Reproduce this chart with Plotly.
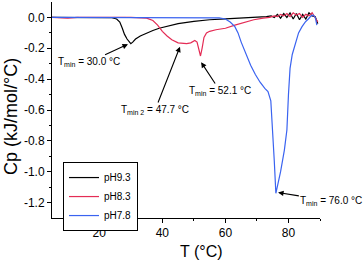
import plotly.graph_objects as go

# pH9.3 (black)
x_ph93 = [5, 20, 24, 25.5, 26.5, 27.3, 28, 28.8, 29.5, 30, 30.6, 31.5, 33, 35, 37, 39, 42, 45, 50, 55, 60, 65, 70,
          73, 74.5, 75.5, 76.5, 77.5, 78.5, 79.5, 80.5, 81.5, 82.5, 83.5, 84.5, 85.5, 86.5, 87.5, 88.5, 89.3]
y_ph93 = [0, 0, -0.002, -0.01, -0.03, -0.07, -0.11, -0.14, -0.16, -0.17, -0.16, -0.14, -0.12, -0.10, -0.085, -0.07,
          -0.055, -0.04, -0.025, -0.015, -0.01, -0.005, 0.0, 0.005, 0.01, 0.0, 0.02, -0.005, 0.025, 0.0, 0.03, -0.01,
          0.025, -0.015, 0.02, -0.01, 0.03, 0.01, 0.005, -0.04]

# pH8.3 (red)
x_ph83 = [5, 8, 10, 13, 20, 30, 35, 37, 38.5, 40, 41.5, 43, 45, 47.7, 49, 50.3, 51, 51.6, 52.1, 52.6, 53.2, 54, 55,
          57, 60, 63, 66, 69, 72, 74, 75.5, 76.5, 77.5, 78.5, 79.5, 80.5, 81.5, 82.5, 83.5, 84.5, 85.5, 86.5, 87.5,
          88.5, 89.3]
y_ph83 = [0, -0.004, -0.004, 0, 0, 0, -0.005, -0.02, -0.05, -0.09, -0.12, -0.145, -0.165, -0.17, -0.165, -0.15,
          -0.16, -0.21, -0.25, -0.2, -0.13, -0.10, -0.09, -0.08, -0.07, -0.05, -0.03, -0.015, -0.005, 0.0, 0.01,
          0.005, 0.02, 0.01, 0.025, 0.005, 0.03, 0.015, 0.025, 0.0, 0.02, 0.01, 0.03, 0.0, -0.03]

# pH7.8 (blue)
x_ph78 = [5, 55, 58, 60, 61.5, 63, 64, 65, 66.5, 68, 69.5, 71, 72.5, 73.5, 74.4, 75.0, 75.5, 76.0, 77.5, 78.7,
          79.5, 80.0, 80.5, 81.2, 82.1, 83.2, 84.3, 85.3, 86.3, 87.2, 87.9, 88.5, 89]
y_ph78 = [0, 0, -0.003, -0.01, -0.03, -0.06, -0.10, -0.16, -0.24, -0.31, -0.37, -0.42, -0.46, -0.48, -0.54, -0.73,
          -0.93, -1.14, -1.0, -0.86, -0.73, -0.5, -0.33, -0.24, -0.17, -0.1, -0.06, -0.03, -0.01, 0.01, 0.015, 0.0,
          -0.05]

x_ticks = [20, 40, 60, 80]
y_ticks = [0.0, -0.2, -0.4, -0.6, -0.8, -1.0, -1.2]
y_tick_labels = ["0.0", "-0.2", "-0.4", "-0.6", "-0.8", "-1.0", "-1.2"]

font = "Liberation Sans, Arial, sans-serif"

fig = go.Figure()
fig.add_trace(go.Scatter(x=x_ph93, y=y_ph93, mode="lines", name="pH9.3",
                         line=dict(color="#000000", width=1.2)))
fig.add_trace(go.Scatter(x=x_ph83, y=y_ph83, mode="lines", name="pH8.3",
                         line=dict(color="#e42c55", width=1.2)))
fig.add_trace(go.Scatter(x=x_ph78, y=y_ph78, mode="lines", name="pH7.8",
                         line=dict(color="#3a63f0", width=1.2)))

ann = [
    ("T<sub>min</sub> = 30.0 °C", 29.1, -0.174, 16.6, -0.29),
    ("T<sub>min 2</sub> = 47.7 °C", 45.6, -0.19, 37.7, -0.60),
    ("T<sub>min</sub> = 52.1 °C", 52.3, -0.29, 58.3, -0.477),
    ("T<sub>min</sub> = 76.0 °C", 76.7, -1.135, 93.6, -1.19),
]
for text, x, y, ax, ay in ann:
    fig.add_annotation(x=x, y=y, ax=ax, ay=ay, axref="x", ayref="y", xref="x", yref="y",
                       text=text, showarrow=True, arrowhead=2, arrowsize=1, arrowwidth=1.1,
                       arrowcolor="black", font=dict(family=font, size=10, color="black"))

fig.add_annotation(x=(201 - 52) / 268, y=-0.157, xref="paper", yref="paper", text="T (°C)",
                   showarrow=False, xanchor="center", yanchor="middle",
                   font=dict(family=font, size=16, color="black"))
fig.add_annotation(x=(11 - 52) / 268, y=(218 - 117) / 216, xref="paper", yref="paper",
                   text="Cp (kJ/mol/°C)", textangle=-90,
                   showarrow=False, xanchor="center", yanchor="middle",
                   font=dict(family=font, size=18, color="black"))

fig.update_layout(
    width=363, height=262,
    margin=dict(l=52, r=43, t=2, b=44, autoexpand=False),
    paper_bgcolor="white", plot_bgcolor="white",
    font=dict(family=font, size=12, color="black"),
    showlegend=True,
    legend=dict(x=0.041, y=0.259, xanchor="left", yanchor="top",
                bordercolor="black", borderwidth=1, bgcolor="white",
                font=dict(family=font, size=10, color="black"),
                itemwidth=30, tracegroupgap=0),
)

fig.update_xaxes(range=[5, 90], tickvals=x_ticks, showgrid=False, zeroline=False, automargin=False,
                 showline=True, linecolor="black", linewidth=1,
                 ticks="outside", ticklen=4, tickcolor="black",
                 minor=dict(tickvals=[10, 30, 50, 70, 90], ticks="outside", ticklen=2, tickcolor="black"),
                 tickfont=dict(family=font, size=12))
fig.update_yaxes(range=[-1.3, 0.1], tickvals=y_ticks, ticktext=y_tick_labels, showgrid=False, zeroline=False,
                 automargin=False,
                 showline=True, linecolor="black", linewidth=1,
                 ticks="outside", ticklen=4, tickcolor="black",
                 minor=dict(tickvals=[-0.1, -0.3, -0.5, -0.7, -0.9, -1.1], ticks="outside", ticklen=2,
                            tickcolor="black"),
                 tickfont=dict(family=font, size=12))

fig.write_html("out.html", config={"displayModeBar": False},
               post_script="document.body.style.margin='0';document.body.style.padding='0';")
